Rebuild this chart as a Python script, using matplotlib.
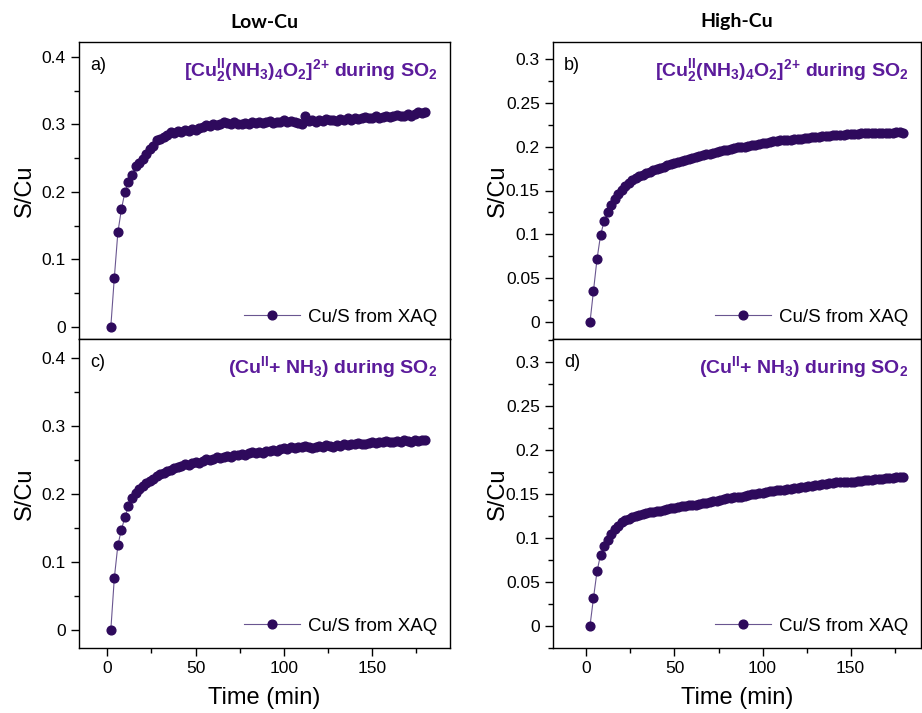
import matplotlib
matplotlib.use("Agg")
import matplotlib.pyplot as plt
from matplotlib.ticker import MultipleLocator, FuncFormatter

plt.rcParams['font.family'] = ['Liberation Sans', 'DejaVu Sans']
# only the purple panel labels use mathtext, and they are all bold
plt.rcParams['mathtext.fontset'] = 'custom'
plt.rcParams['mathtext.rm'] = 'Liberation Sans:bold'
plt.rcParams['mathtext.bf'] = 'Liberation Sans:bold'
plt.rcParams['mathtext.it'] = 'Liberation Sans:bold'
plt.rcParams['mathtext.default'] = 'rm'

TIME = [2, 4, 6, 8, 10, 12, 14, 16, 18, 20, 22, 24, 26, 28, 30, 32, 34, 36, 38, 40,
        42, 44, 46, 48, 50, 52, 54, 56, 58, 60, 62, 64, 66, 68, 70, 72, 74, 76, 78, 80,
        82, 84, 86, 88, 90, 92, 94, 96, 98, 100, 102, 104, 106, 108, 110, 112, 114, 116, 118, 120,
        122, 124, 126, 128, 130, 132, 134, 136, 138, 140, 142, 144, 146, 148, 150, 152, 154, 156, 158, 160,
        162, 164, 166, 168, 170, 172, 174, 176, 178, 180]

# a) Low-Cu, [Cu2(NH3)4O2]2+
LOW_A = [0, 0.073, 0.140, 0.174, 0.200, 0.214, 0.225, 0.238, 0.243, 0.249,
         0.256, 0.264, 0.268, 0.277, 0.279, 0.281, 0.284, 0.288, 0.287, 0.290,
         0.289, 0.291, 0.290, 0.293, 0.292, 0.294, 0.296, 0.299, 0.298, 0.301,
         0.299, 0.300, 0.303, 0.302, 0.300, 0.303, 0.301, 0.300, 0.302, 0.301,
         0.303, 0.302, 0.304, 0.302, 0.303, 0.305, 0.302, 0.304, 0.303, 0.306,
         0.304, 0.305, 0.303, 0.302, 0.301, 0.313, 0.305, 0.306, 0.304, 0.307,
         0.305, 0.308, 0.306, 0.307, 0.305, 0.308, 0.307, 0.309, 0.307, 0.310,
         0.308, 0.309, 0.311, 0.309, 0.310, 0.312, 0.310, 0.311, 0.313, 0.311,
         0.312, 0.314, 0.312, 0.313, 0.315, 0.313, 0.316, 0.318, 0.317, 0.319]

# b) High-Cu, [Cu2(NH3)4O2]2+
HIGH_B = [0, 0.036, 0.072, 0.099, 0.115, 0.125, 0.133, 0.140, 0.146, 0.151,
          0.155, 0.159, 0.162, 0.164, 0.166, 0.168, 0.170, 0.171, 0.173, 0.174,
          0.176, 0.177, 0.179, 0.180, 0.181, 0.182, 0.184, 0.185, 0.186, 0.187,
          0.188, 0.189, 0.190, 0.191, 0.192, 0.193, 0.194, 0.195, 0.196, 0.196,
          0.197, 0.198, 0.199, 0.200, 0.200, 0.201, 0.202, 0.202, 0.203, 0.204,
          0.204, 0.205, 0.206, 0.206, 0.207, 0.207, 0.208, 0.208, 0.209, 0.209,
          0.209, 0.210, 0.210, 0.211, 0.211, 0.211, 0.212, 0.212, 0.212, 0.213,
          0.213, 0.213, 0.213, 0.214, 0.214, 0.214, 0.214, 0.215, 0.215, 0.215,
          0.215, 0.215, 0.216, 0.216, 0.216, 0.216, 0.216, 0.217, 0.217, 0.216]

# c) Low-Cu, CuII + NH3
LOW_C = [0, 0.077, 0.125, 0.148, 0.166, 0.183, 0.195, 0.202, 0.207, 0.212,
         0.216, 0.219, 0.222, 0.226, 0.229, 0.231, 0.234, 0.236, 0.238, 0.240,
         0.241, 0.244, 0.243, 0.246, 0.248, 0.246, 0.249, 0.251, 0.250, 0.252,
         0.254, 0.253, 0.255, 0.256, 0.255, 0.258, 0.257, 0.259, 0.258, 0.260,
         0.262, 0.260, 0.262, 0.261, 0.264, 0.263, 0.265, 0.264, 0.266, 0.268,
         0.267, 0.269, 0.268, 0.270, 0.269, 0.271, 0.270, 0.268, 0.270, 0.271,
         0.269, 0.272, 0.271, 0.270, 0.272, 0.271, 0.273, 0.272, 0.274, 0.273,
         0.275, 0.274, 0.273, 0.275, 0.276, 0.275, 0.277, 0.276, 0.278, 0.277,
         0.276, 0.278, 0.277, 0.279, 0.278, 0.277, 0.279, 0.278, 0.280, 0.280]

# d) High-Cu, CuII + NH3
HIGH_D = [0, 0.032, 0.062, 0.081, 0.091, 0.098, 0.105, 0.110, 0.114, 0.118,
          0.120, 0.122, 0.124, 0.125, 0.126, 0.127, 0.128, 0.129, 0.130, 0.131,
          0.131, 0.132, 0.133, 0.134, 0.134, 0.135, 0.136, 0.136, 0.137, 0.138,
          0.138, 0.139, 0.140, 0.140, 0.141, 0.142, 0.142, 0.143, 0.144, 0.145,
          0.145, 0.146, 0.147, 0.147, 0.148, 0.149, 0.150, 0.150, 0.151, 0.151,
          0.152, 0.153, 0.153, 0.154, 0.154, 0.155, 0.156, 0.156, 0.157, 0.157,
          0.158, 0.158, 0.159, 0.159, 0.160, 0.160, 0.161, 0.161, 0.162, 0.162,
          0.163, 0.163, 0.163, 0.164, 0.164, 0.164, 0.165, 0.165, 0.166, 0.166,
          0.166, 0.167, 0.167, 0.167, 0.168, 0.168, 0.168, 0.169, 0.169, 0.169]

PANEL_LETTERS = ["a)", "b)", "c)", "d)"]
COMPLEX_LABEL = r"$[Cu_2^{II}(NH_3)_4O_2]^{2{+}}$ during SO$_2$"
MIX_LABEL = r"(Cu$^{II}$+ NH$_3$) during SO$_2$"
COLUMN_TITLES = ["Low-Cu", "High-Cu"]

MARKER_COLOR = '#2e0a5c'
LINE_COLOR = '#6a5690'
TEXT_COLOR = '#5b1b9b'

fig = plt.figure(figsize=(9.22, 7.13), dpi=100)

W, H = 922.0, 713.0
def px_axes(x0, y0, x1, y1):
    return fig.add_axes([x0 / W, 1 - y1 / H, (x1 - x0) / W, (y1 - y0) / H])

ax_a = px_axes(79, 42, 450, 339)
ax_c = px_axes(79, 339, 450, 648)
ax_b = px_axes(553, 42, 921, 339)
ax_d = px_axes(553, 339, 921, 648)

panels = [
    (ax_a, LOW_A, PANEL_LETTERS[0], COMPLEX_LABEL, (-16, 194), (-0.018, 0.422), 0.1, True),
    (ax_b, HIGH_B, PANEL_LETTERS[1], COMPLEX_LABEL, (-19, 190), (-0.019, 0.319), 0.05, True),
    (ax_c, LOW_C, PANEL_LETTERS[2], MIX_LABEL, (-16, 194), (-0.026, 0.428), 0.1, False),
    (ax_d, HIGH_D, PANEL_LETTERS[3], MIX_LABEL, (-19, 190), (-0.025, 0.326), 0.05, False),
]

def fmt(v, pos):
    return "%g" % round(v, 3)

for ax, ys, letter, label, xlim, ylim, ystep, is_top in panels:
    ax.plot(TIME, ys, '-o', color=LINE_COLOR, lw=0.8, markersize=6.3,
            markerfacecolor=MARKER_COLOR, markeredgecolor=MARKER_COLOR,
            label="Cu/S from XAQ")
    ax.set_xlim(*xlim)
    ax.set_ylim(*ylim)
    ax.xaxis.set_major_locator(MultipleLocator(50))
    ax.xaxis.set_minor_locator(MultipleLocator(25))
    ax.yaxis.set_major_locator(MultipleLocator(ystep))
    ax.yaxis.set_minor_locator(MultipleLocator(ystep / 2))
    ax.yaxis.set_major_formatter(FuncFormatter(fmt))
    ax.tick_params(which='both', direction='out', labelsize=12.5, right=False, top=False)
    ax.tick_params(which='major', length=6, width=1)
    ax.tick_params(which='minor', length=3.5, width=1)
    for s in ax.spines.values():
        s.set_linewidth(1.0)
    ax.set_ylabel("S/Cu", fontsize=17, labelpad=6)
    if is_top:
        ax.tick_params(axis='x', labelbottom=False)
    else:
        ax.set_xlabel("Time (min)", fontsize=17, labelpad=8)
    ax.text(0.03, 0.95, letter, transform=ax.transAxes, fontsize=13, va='top', ha='left')
    ax.text(0.965, 0.95, label, transform=ax.transAxes, fontsize=14, va='top', ha='right',
            color=TEXT_COLOR, fontweight='bold')
    ax.legend(loc='lower right', frameon=False, fontsize=13.5, handlelength=3.0,
              borderaxespad=0.3, handletextpad=0.4)

ax_a.yaxis.set_label_coords(-0.115, 0.5)
ax_c.yaxis.set_label_coords(-0.115, 0.5)
ax_b.yaxis.set_label_coords(-0.12, 0.5)
ax_d.yaxis.set_label_coords(-0.12, 0.5)

fig.text(264 / W, 1 - 22 / H, COLUMN_TITLES[0], ha='center', va='center',
         fontsize=14, fontweight='bold', family=['Lato', 'DejaVu Sans'])
fig.text(737 / W, 1 - 22 / H, COLUMN_TITLES[1], ha='center', va='center',
         fontsize=14, fontweight='bold', family=['Lato', 'DejaVu Sans'])

fig.savefig("out.png", dpi=100)
